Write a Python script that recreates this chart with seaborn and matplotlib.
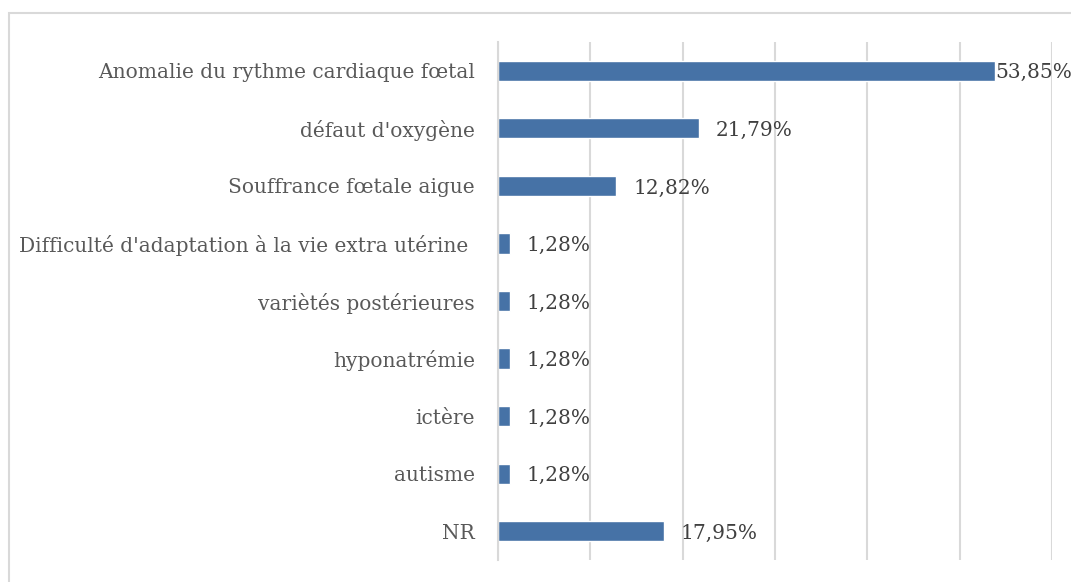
import matplotlib
matplotlib.use("Agg")
import matplotlib.pyplot as plt
import seaborn as sns
import pandas as pd
from matplotlib.patches import Rectangle

categories = [
    "Anomalie du rythme cardiaque fœtal",
    "défaut d'oxygène",
    "Souffrance fœtale aigue",
    "Difficulté d'adaptation à la vie extra utérine ",
    "variètés postérieures",
    "hyponatrémie",
    "ictère",
    "autisme",
    "NR",
]
values = [53.85, 21.79, 12.82, 1.28, 1.28, 1.28, 1.28, 1.28, 17.95]
value_labels = ["53,85%", "21,79%", "12,82%", "1,28%", "1,28%", "1,28%", "1,28%", "1,28%", "17,95%"]

sns.set_theme(style="white")
plt.rcParams["font.family"] = ["DejaVu Serif"]

df = pd.DataFrame({"cat": categories, "val": values})

fig = plt.figure(figsize=(10.71, 5.82), dpi=100)
ax = fig.add_axes([498 / 1071, 1 - 560 / 582, (1052 - 498) / 1071, (560 - 42) / 582])

sns.barplot(data=df, x="val", y="cat", orient="h", color="#4672A6", width=0.35,
            saturation=1, ax=ax, order=categories)

ax.set_xlim(0, 60)
ax.set_xticks(range(0, 61, 10))
ax.xaxis.grid(True, color="#d9d9d9", linewidth=1.5)
ax.set_axisbelow(True)
ax.tick_params(axis="x", length=0, labelbottom=False)
ax.tick_params(axis="y", length=0, pad=16.5, labelsize=14.5, labelcolor="#595959")
ax.set_xlabel("")
ax.set_ylabel("")
for s in ["top", "right", "bottom"]:
    ax.spines[s].set_visible(False)
ax.spines["left"].set_color("#d9d9d9")
ax.spines["left"].set_linewidth(1.5)

for i, (v, lab) in enumerate(zip(values, value_labels)):
    off = 0 if v > 50 else 12
    ax.annotate(lab, xy=(v, i), xytext=(off, -1.5), textcoords="offset points",
                ha="left", va="center", fontsize=14.5, color="#404040",
                annotation_clip=False)

fig.patches.append(Rectangle((9 / 1071, -0.1), 1.2, 1.1 - 13 / 582 + 0.0,
                             transform=fig.transFigure, fill=False,
                             edgecolor="#d9d9d9", linewidth=1.5, zorder=0))

fig.savefig("out.png", dpi=100)
